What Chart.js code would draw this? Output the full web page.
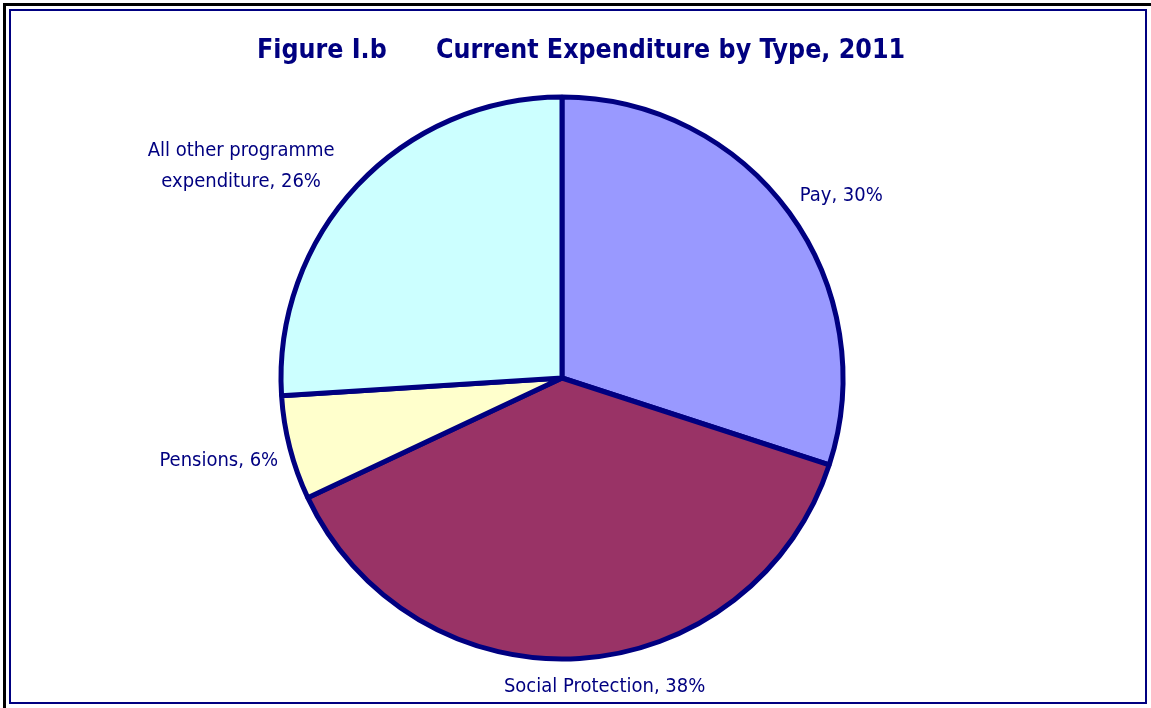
<!DOCTYPE html>
<html>
<head>
<meta charset="utf-8">
<script src="https://cdn.jsdelivr.net/npm/chart.js@4/dist/chart.umd.min.js"></script>
<style>
  html, body { margin: 0; padding: 0; background: #fff; }
  #wrap { position: relative; width: 1151px; height: 708px; }
</style>
</head>
<body>
<div id="wrap"><canvas id="chart" width="1151" height="708"></canvas></div>
<script>
// data
const categories = ["Pay", "Social Protection", "Pensions", "All other programme expenditure"];
const shares = [30, 38, 6, 26];
const labelLines = [["Pay, 30%"], ["Social Protection, 38%"], ["Pensions, 6%"], ["All other programme", "expenditure, 26%"]];
const sliceColors = ["#9999ff", "#993366", "#ffffcc", "#ccffff"];
const title = ["Figure I.b", "Current Expenditure by Type, 2011"];

const navy = "#000080";
const font = "'DejaVu Sans Condensed', 'DejaVu Sans', sans-serif";

// label offsets from the outer point of each slice's middle
const labelShift = [[52, -17], [25, 28], [-71, 13], [-116, -19]];

const framePlugin = {
  id: "frame",
  beforeDraw(chart) {
    const ctx = chart.ctx;
    ctx.save();
    ctx.fillStyle = "#fff";
    ctx.fillRect(0, 0, chart.width, chart.height);
    ctx.strokeStyle = "#000";
    ctx.lineWidth = 3;
    ctx.strokeRect(4.5, 4.5, chart.width + 10, chart.height + 10);
    ctx.strokeStyle = navy;
    ctx.lineWidth = 2;
    ctx.strokeRect(10, 10, 1136, 693);
    ctx.restore();
  },
  afterDraw(chart) {
    const ctx = chart.ctx;
    ctx.save();
    ctx.fillStyle = navy;
    ctx.textBaseline = "middle";
    ctx.font = "bold 26.5px " + font;
    ctx.textAlign = "left";
    ctx.fillText(title[0], 257, 51);
    ctx.fillText(title[1], 436, 51);

    ctx.font = "20px " + font;
    ctx.textAlign = "center";
    const arcs = chart.getDatasetMeta(0).data;
    arcs.forEach((arc, i) => {
      const mid = (arc.startAngle + arc.endAngle) / 2;
      const px = arc.x + Math.cos(mid) * arc.outerRadius + labelShift[i][0];
      const py = arc.y + Math.sin(mid) * arc.outerRadius + labelShift[i][1];
      const lines = labelLines[i];
      const lh = 31;
      lines.forEach((t, k) => {
        ctx.fillText(t, px, py + (k - (lines.length - 1) / 2) * lh);
      });
    });
    ctx.restore();
  }
};

new Chart(document.getElementById("chart"), {
  type: "pie",
  data: {
    labels: categories,
    datasets: [{
      data: shares,
      backgroundColor: sliceColors,
      borderColor: navy,
      borderWidth: 5,
      radius: 281
    }]
  },
  options: {
    responsive: false,
    animation: false,
    layout: { padding: { left: 100, right: 127, top: 78, bottom: 30 } },
    plugins: {
      legend: { display: false },
      tooltip: { enabled: false }
    }
  },
  plugins: [framePlugin]
});
</script>
</body>
</html>
